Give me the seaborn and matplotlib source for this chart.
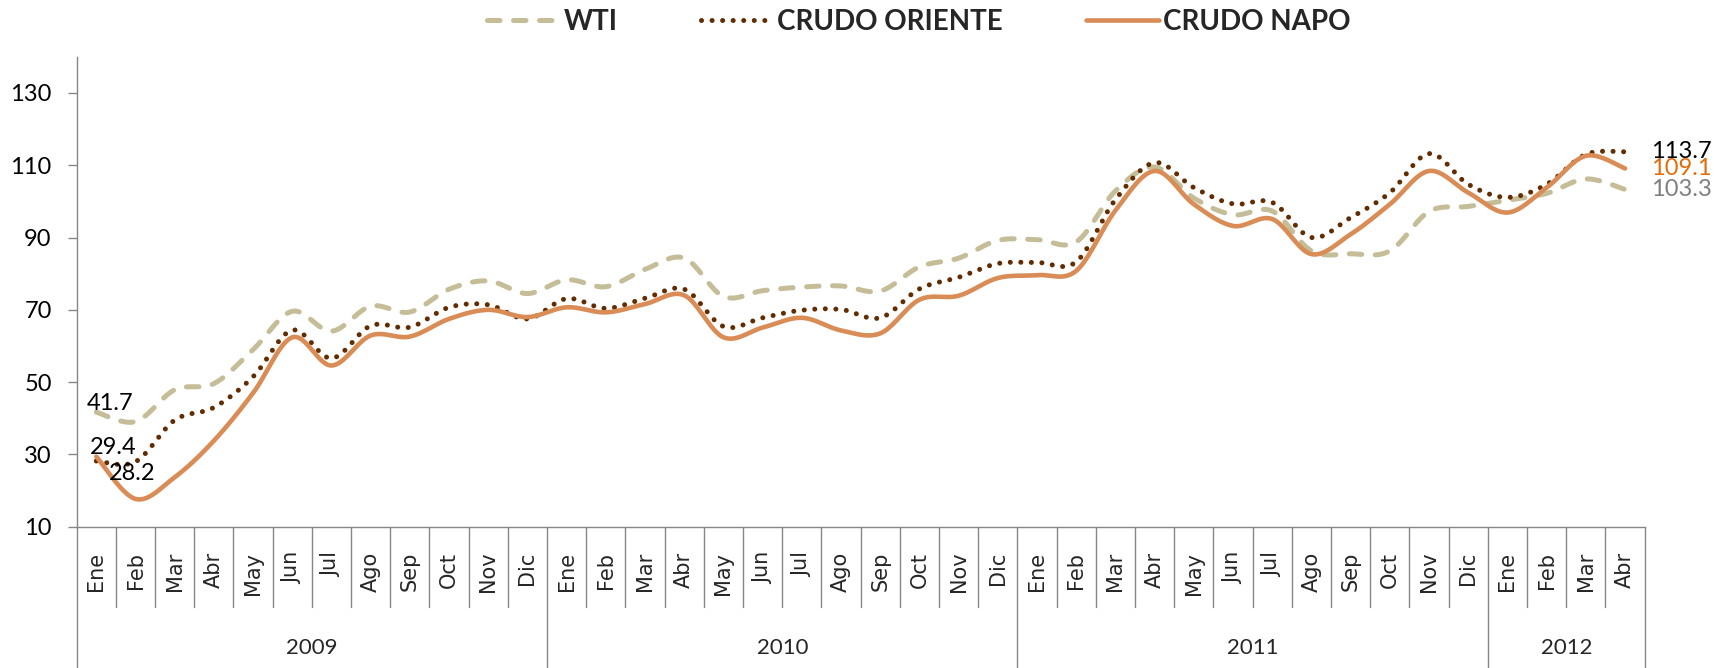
import numpy as np
import pandas as pd
import matplotlib
matplotlib.use('Agg')
import matplotlib.pyplot as plt
import matplotlib.transforms as mtransforms
import seaborn as sns

# ============================================================
# DATA (monthly prices, USD per barrel)
# ============================================================

month_names = ['Ene', 'Feb', 'Mar', 'Abr', 'May', 'Jun',
               'Jul', 'Ago', 'Sep', 'Oct', 'Nov', 'Dic']
years = ['2009', '2010', '2011', '2012']
months_per_year = [12, 12, 12, 4]
months = [m for n in months_per_year for m in month_names[:n]]

wti = [41.7, 39.1, 47.9, 49.6, 59.0, 69.6, 64.1, 71.0, 69.4, 75.7, 78.0, 74.5,
       78.3, 76.4, 81.2, 84.3, 73.7, 75.3, 76.3, 76.6, 75.2, 81.9, 84.3, 89.2,
       89.4, 88.8, 102.9, 109.5, 100.9, 96.3, 97.3, 86.3, 85.5, 86.3, 97.2, 98.6,
       100.3, 102.2, 106.2, 103.3]

oriente = [28.2, 28.0, 39.5, 43.0, 51.5, 64.4, 56.6, 65.6, 65.2, 70.7, 71.4, 67.5,
           73.1, 70.4, 73.2, 75.7, 65.4, 67.8, 69.9, 70.1, 67.8, 75.8, 79.0, 82.8,
           83.1, 83.3, 100.5, 110.7, 103.8, 99.3, 99.7, 90.0, 95.5, 102.4, 113.2, 104.7,
           101.1, 104.7, 113.0, 113.7]

napo = [29.4, 17.7, 23.7, 33.8, 47.0, 62.4, 54.6, 62.9, 62.6, 67.5, 70.0, 68.0,
        70.7, 69.3, 71.6, 74.0, 62.4, 65.1, 67.8, 64.3, 63.5, 72.8, 73.9, 78.8,
        79.6, 80.8, 97.5, 108.4, 99.2, 93.2, 95.1, 85.4, 90.9, 99.2, 108.4, 102.4,
        96.9, 103.8, 112.6, 109.1]

series_names = ['WTI', 'CRUDO ORIENTE', 'CRUDO NAPO']


def smooth_curve(values, steps=20):
    # Excel-style smoothed line (cubic Bezier through each point)
    y = np.asarray(values, dtype=float)
    x = np.arange(len(y), dtype=float)
    px = np.r_[x[0], x, x[-1]]
    py = np.r_[y[0], y, y[-1]]
    out_x, out_y = [], []
    for i in range(len(y) - 1):
        last = i == len(y) - 2
        t = np.linspace(0, 1, steps + 1 if last else steps, endpoint=last)
        for p, out in ((px, out_x), (py, out_y)):
            p0, p1, p2, p3 = p[i], p[i + 1], p[i + 2], p[i + 3]
            c1 = p1 + (p2 - p0) / 6.0
            c2 = p2 - (p3 - p1) / 6.0
            b = ((1 - t) ** 3 * p1 + 3 * (1 - t) ** 2 * t * c1
                 + 3 * (1 - t) * t ** 2 * c2 + t ** 3 * p2)
            out.extend(b)
    return np.array(out_x), np.array(out_y)


# ============================================================
# STYLE
# ============================================================

sns.set_theme(style='white')
plt.rcParams['font.family'] = ['Lato', 'DejaVu Sans']

c_wti = '#C4BD97'
c_ori = '#632C00'
c_napo = '#D98C55'
c_axis = '#868686'

fig = plt.figure(figsize=(17.14, 6.68), dpi=100)
fig.patch.set_facecolor('white')
ax = fig.add_axes([0.04475, 0.2114, 0.9148, 0.7037])

# ============================================================
# LINES
# ============================================================

x, y = smooth_curve(wti)
sns.lineplot(x=x, y=y, ax=ax, sort=False, color=c_wti, lw=3.6,
             linestyle=(0, (2.5, 2.7)), dash_capstyle='round',
             label=series_names[0])

x, y = smooth_curve(oriente)
sns.lineplot(x=x, y=y, ax=ax, sort=False, color=c_ori, lw=3.6,
             linestyle=(0, (0.01, 2.1)), dash_capstyle='round',
             label=series_names[1])

x, y = smooth_curve(napo)
sns.lineplot(x=x, y=y, ax=ax, sort=False, color=c_napo, lw=3.3,
             solid_capstyle='round', label=series_names[2])

ax.set_xlim(-0.5, len(months) - 0.5)
ax.set_ylim(10, 140)
ax.set_yticks(np.arange(10, 131, 20))
ax.set_xticks([])
ax.set_xlabel('')
ax.set_ylabel('')

for side in ['top', 'right']:
    ax.spines[side].set_visible(False)
for side in ['left', 'bottom']:
    ax.spines[side].set_color(c_axis)
    ax.spines[side].set_linewidth(1.0)

ax.tick_params(axis='y', direction='out', length=6.5, width=1.0,
               color=c_axis, pad=11.5, labelsize=17, labelcolor='black',
               left=True)

# ============================================================
# DATA LABELS
# ============================================================

last = len(months) - 1
end_labels = [(oriente[-1], 'black'), (napo[-1], '#E46C0A'), (wti[-1], '#7F7F7F')]
for val, col in end_labels:
    ax.annotate(f'{val:.1f}', xy=(last, val), xytext=(26, 0),
                textcoords='offset pixels', ha='left', va='center',
                fontsize=17, color=col, annotation_clip=False)

start_labels = [(wti[0], (14, 9)), (napo[0], (17, 9)), (oriente[0], (36, -13))]
for val, off in start_labels:
    ax.annotate(f'{val:.1f}', xy=(0, val), xytext=off,
                textcoords='offset pixels', ha='center', va='center',
                fontsize=17, color='black', annotation_clip=False)

# ============================================================
# CATEGORY AXIS (months + years)
# ============================================================

trans = mtransforms.blended_transform_factory(ax.transData, ax.transAxes)
ax_h = 470.1
month_sep = -80 / ax_h
year_sep = -142 / ax_h

for i, m in enumerate(months):
    ax.text(i, -25 / ax_h, m, transform=trans, rotation=90,
            ha='center', va='top', fontsize=15, family='DejaVu Sans')

bounds = np.cumsum([0] + months_per_year)
for k in range(1, len(months)):
    if k in bounds:
        continue
    ax.plot([k - 0.5, k - 0.5], [0, month_sep], transform=trans,
            color=c_axis, lw=1.0, clip_on=False)

for b in bounds:
    ax.plot([b - 0.5, b - 0.5], [0, year_sep], transform=trans,
            color=c_axis, lw=1.0, clip_on=False)

for yr, a, b in zip(years, bounds[:-1], bounds[1:]):
    ax.text((a + b - 1) / 2, -121 / ax_h, yr, transform=trans,
            ha='center', va='center', fontsize=16)

# ============================================================
# LEGEND
# ============================================================

handles, labels = ax.get_legend_handles_labels()
leg = ax.legend(handles, labels, loc='center', ncol=3, frameon=False,
                bbox_to_anchor=(0.536, 0.967), bbox_transform=fig.transFigure,
                prop={'family': 'Lato', 'weight': 'bold', 'size': 20},
                handlelength=2.6, handletextpad=0.15, columnspacing=3.0)

fig.savefig('out.png', dpi=100, facecolor='white')
